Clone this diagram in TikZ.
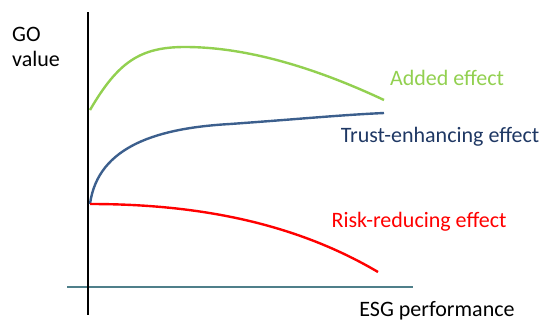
\documentclass[tikz,border=0pt]{standalone}
\usepackage{fontspec}
\setmainfont{Carlito}
\definecolor{addgreen}{HTML}{92D050}
\definecolor{trustblue}{HTML}{3C5F8D}
\definecolor{trusttext}{HTML}{1F3864}
\definecolor{axisteal}{HTML}{4F7F8A}
\begin{document}
\begin{tikzpicture}[x=1pt,y=-1pt,
  lbl/.style={font=\fontsize{22}{25}\selectfont, inner sep=0pt},
  curve/.style={line width=2.4pt}]
\useasboundingbox (0,0) rectangle (543,322);
\coordinate (ytop) at (88,12);
\coordinate (ybot) at (88,315);
\coordinate (xl) at (67,287);
\coordinate (xr) at (413,287);
\draw[line width=1.6pt, axisteal] (xl) -- (xr);
\draw[line width=1.6pt, black] (ytop) -- (ybot);
% curves
\draw[curve, addgreen] (90,110) .. controls (118,62) and (140,47) .. (185,47)
  .. controls (250,47) and (320,70) .. (384,100);
\draw[curve, trustblue] (90,204) .. controls (98,145) and (160,128) .. (230,124)
  .. controls (300,119) and (340,115) .. (384,113);
\draw[curve, red] (90,204) .. controls (190,204) and (290,220) .. (378,272);
% labels
\node[lbl, anchor=west, align=left] (go) at (12,47) {GO\\value};
\node[lbl, text=addgreen] (added) at (447,78) {Added effect};
\node[lbl, text=trusttext] (trust) at (440,137) {Trust-enhancing effect};
\node[lbl, text=red] (risk) at (419,222) {Risk-reducing effect};
\node[lbl] (esg) at (437,311) {ESG performance};
\end{tikzpicture}
\end{document}
